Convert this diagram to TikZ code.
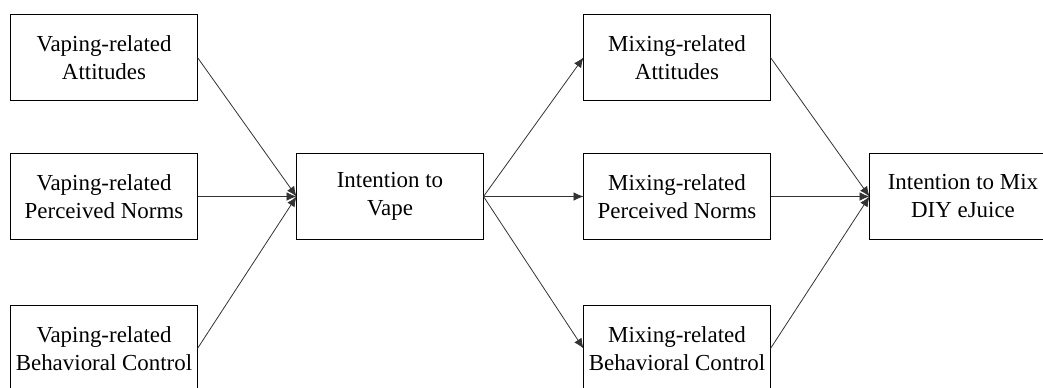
\documentclass[tikz,border=0pt]{standalone}
\usepackage{fontspec}
\setmainfont{Liberation Serif}
\usetikzlibrary{positioning,arrows.meta}

\begin{document}
\begin{tikzpicture}[box/.style={draw, line width=1.4pt, minimum width=140.25pt, minimum height=64.5pt, inner sep=0pt, outer sep=0pt, align=center, font=\fontsize{17.2}{21}\selectfont},
    link/.style={-{Latex[length=7.5pt,width=6.5pt]}, line width=0.6pt, draw=black!80},
    node distance=74.25pt]

\path[use as bounding box, clip] (-78pt,43.125pt) rectangle (704.25pt,-247.125pt);

\node[box] (va) {Vaping-related\\Attitudes};
\node[box] (vn) [below=39.75pt of va] {Vaping-related\\Perceived Norms};
\node[box] (vc) [below=49.5pt of vn] {Vaping-related\\Behavioral Control};
\node[box] (iv) [right=of vn] {Intention to\\Vape};
\node[box] (mn) [right=75pt of iv] {Mixing-related\\Perceived Norms};
\node[box] (ma) [above=39.75pt of mn] {Mixing-related\\Attitudes};
\node[box] (mc) [below=49.5pt of mn] {Mixing-related\\Behavioral Control};
\node[box] (im) [right=of mn] {Intention to Mix\\DIY eJuice};

\draw[link] (va.east) -- (iv.west);
\draw[link] (vn.east) -- (iv.west);
\draw[link] (vc.east) -- (iv.west);

\draw[link] (iv.east) -- (ma.west);
\draw[link] (iv.east) -- (mn.west);
\draw[link] (iv.east) -- (mc.west);

\draw[link] (ma.east) -- (im.west);
\draw[link] (mn.east) -- (im.west);
\draw[link] (mc.east) -- (im.west);

\end{tikzpicture}
\end{document}
